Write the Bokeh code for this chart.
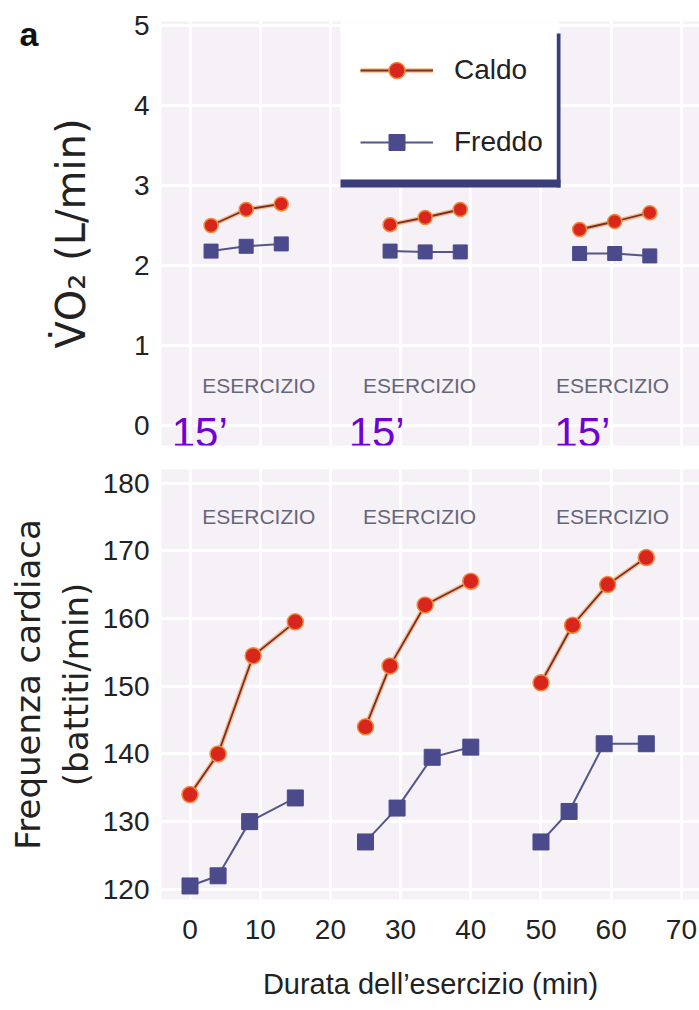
from bokeh.plotting import figure
from bokeh.layouts import column
from bokeh.models import (Range1d, FixedTicker, Label, BoxAnnotation, Legend, LegendItem,
                          LinearAxis)
from bokeh.embed import file_html
from bokeh.resources import INLINE

# ---------------- data ----------------
series_labels = ["Caldo", "Freddo"]

vo2_time_caldo = [[3, 8, 13], [28.5, 33.5, 38.5], [55.5, 60.5, 65.5]]
vo2_time_freddo = [[3, 8, 13], [28.5, 33.5, 38.5], [55.5, 60.5, 65.5]]
vo2_caldo = [[2.50, 2.70, 2.77], [2.51, 2.60, 2.70], [2.45, 2.55, 2.66]]
vo2_freddo = [[2.18, 2.24, 2.27], [2.18, 2.17, 2.17], [2.15, 2.15, 2.12]]

hr_time_caldo = [[0, 4, 9, 15], [25, 28.5, 33.5, 40], [50, 54.5, 59.5, 65]]
hr_time_freddo = [[0, 4, 8.5, 15], [25, 29.5, 34.5, 40], [50, 54, 59, 65]]
hr_caldo = [[134, 140, 154.5, 159.5], [144, 153, 162, 165.5], [150.5, 159, 165, 169]]
hr_freddo = [[120.5, 122, 130, 133.5], [127, 132, 139.5, 141], [127, 131.5, 141.5, 141.5]]

x_ticks = [0, 10, 20, 30, 40, 50, 60, 70]
vo2_ticks = [0, 1, 2, 3, 4, 5]
hr_ticks = [120, 130, 140, 150, 160, 170, 180]

bout_label = "ESERCIZIO"
bout_centers = [9.8, 32.7, 60.2]
duration_label = "15\u2019"
duration_x = [-2.6, 22.6, 51.9]
panel_letter = "a"

# ---------------- styles ----------------
SANS = "Liberation Sans, Arial, sans-serif"
WIDE = "DejaVu Sans, sans-serif"
BG = "#f6f1f7"
TXT = "#222222"
RED_FILL = "#d9261c"
RED_EDGE = "#f08a3c"
RED_HALO = "#f4a259"
RED_CORE = "#7a2e2a"
BLUE = "#4b4a8c"
BLUE_LINE = "#55558a"
NAVY = "#3b3d7a"
PURPLE = "#7000d8"

X_RANGE = (-4.06, 72.58)


def style_common(p):
    p.background_fill_color = BG
    p.border_fill_color = "white"
    p.outline_line_color = None
    p.xgrid.ticker = FixedTicker(ticks=x_ticks)
    for g in (p.xgrid, p.ygrid):
        g.grid_line_color = "white"
        g.grid_line_width = 3
        g.grid_line_alpha = 1.0


def style_axis(ax, size="28px"):
    ax.axis_line_color = None
    ax.major_tick_line_color = None
    ax.minor_tick_line_color = None
    ax.major_tick_out = 0
    ax.major_tick_in = 0
    ax.minor_tick_out = 0
    ax.minor_tick_in = 0
    ax.major_label_text_font = SANS
    ax.major_label_text_font_size = size
    ax.major_label_text_color = TXT
    ax.axis_label_text_font_style = "normal"
    ax.axis_label_text_color = TXT


def draw_series(p, xs_c, ys_c, xs_f, ys_f, size):
    first_c, first_f = None, None
    for x, y in zip(xs_c, ys_c):
        h = p.line(x, y, line_color=RED_HALO, line_width=4.5, line_alpha=0.7)
        c = p.line(x, y, line_color=RED_CORE, line_width=1.8)
        s = p.scatter(x, y, marker="circle", size=size, fill_color=RED_FILL,
                      line_color=RED_EDGE, line_width=1.5)
        if first_c is None:
            first_c = [h, c, s]
    for x, y in zip(xs_f, ys_f):
        l = p.line(x, y, line_color=BLUE_LINE, line_width=2)
        s = p.scatter(x, y, marker="square", size=size, fill_color=BLUE, line_color=BLUE)
        if first_f is None:
            first_f = [l, s]
    return first_c, first_f


# ---------------- top panel: VO2 ----------------
top = figure(width=699, height=455, x_range=Range1d(*X_RANGE), y_range=Range1d(-0.25, 5.05),
             x_axis_location=None, output_backend="svg", toolbar_location=None,
             min_border_left=161, min_border_right=0, min_border_top=21, min_border_bottom=10)
style_common(top)
top.ygrid.ticker = FixedTicker(ticks=vo2_ticks)
top.yaxis.ticker = FixedTicker(ticks=vo2_ticks)
style_axis(top.yaxis[0])
top.yaxis.major_label_standoff = 12
top.yaxis.axis_label = "V\u0307O\u2082 (L/min)"
top.yaxis.axis_label_text_font = WIDE
top.yaxis.axis_label_text_font_size = "40px"
top.yaxis.axis_label_standoff = 37

# panel letter "a", drawn as the single label of an extra left axis (outside the frame)
letter_axis = LinearAxis(ticker=FixedTicker(ticks=[4.89]), major_label_overrides={4.89: panel_letter})
style_axis(letter_axis, size="34px")
letter_axis.major_label_text_font_style = "bold"
letter_axis.major_label_text_color = "#111111"
letter_axis.major_label_standoff = 6
top.add_layout(letter_axis, "left")

rc, rf = draw_series(top, vo2_time_caldo, vo2_caldo, vo2_time_freddo, vo2_freddo, 14)

# legend box (white, with navy right and bottom edges)
top.add_layout(BoxAnnotation(left=21.44, right=52.64, bottom=3.0, top=5.05,
                             fill_color="white", fill_alpha=1.0, line_color=None))
top.add_layout(BoxAnnotation(left=21.44, right=52.78, bottom=2.975, top=3.075,
                             fill_color=NAVY, fill_alpha=1.0, line_color=None))
top.add_layout(BoxAnnotation(left=52.25, right=52.78, bottom=2.975, top=4.9,
                             fill_color=NAVY, fill_alpha=1.0, line_color=None))
legend = Legend(items=[LegendItem(label=series_labels[0], renderers=rc),
                       LegendItem(label=series_labels[1], renderers=rf)],
                location=(199, 283), orientation="vertical",
                glyph_width=73, glyph_height=40, label_height=40, spacing=32,
                padding=0, margin=0, label_standoff=21,
                label_text_font=SANS, label_text_font_size="28px", label_text_color=TXT,
                border_line_alpha=0, background_fill_alpha=0)
top.add_layout(legend)

for cx in bout_centers:
    top.add_layout(Label(x=cx, y=0.5, text=bout_label, text_align="center", text_baseline="middle",
                         text_font=SANS, text_font_size="21px", text_color="#66667a"))
for bx in duration_x:
    top.add_layout(Label(x=bx, y=-0.084, text=duration_label, text_align="left",
                         text_baseline="alphabetic", text_font=SANS, text_font_size="42px",
                         text_color=PURPLE))

# ---------------- bottom panel: heart rate ----------------
bot = figure(width=699, height=555, x_range=Range1d(*X_RANGE), y_range=Range1d(118.5, 182),
             output_backend="svg", toolbar_location=None,
             min_border_left=161, min_border_right=0, min_border_top=14, min_border_bottom=111)
style_common(bot)
bot.ygrid.ticker = FixedTicker(ticks=hr_ticks)
bot.yaxis.ticker = FixedTicker(ticks=hr_ticks)
bot.xaxis.ticker = FixedTicker(ticks=x_ticks)
style_axis(bot.yaxis[0])
style_axis(bot.xaxis[0])
bot.yaxis.major_label_standoff = 12
bot.yaxis.axis_label = "Frequenza cardiaca\n(battiti/min)"
bot.yaxis.axis_label_text_font = WIDE
bot.yaxis.axis_label_text_font_size = "34px"
bot.yaxis.axis_label_standoff = 4
bot.xaxis.major_label_standoff = 20
bot.xaxis.axis_label = "Durata dell\u2019esercizio (min)"
bot.xaxis.axis_label_text_font = SANS
bot.xaxis.axis_label_text_font_size = "29px"
bot.xaxis.axis_label_standoff = 26

draw_series(bot, hr_time_caldo, hr_caldo, hr_time_freddo, hr_freddo, 16)

for cx in bout_centers:
    bot.add_layout(Label(x=cx, y=175.0, text=bout_label, text_align="center", text_baseline="middle",
                         text_font=SANS, text_font_size="21px", text_color="#66667a"))

layout = column(top, bot, spacing=0)
open("out.html", "w").write(file_html(layout, INLINE))
